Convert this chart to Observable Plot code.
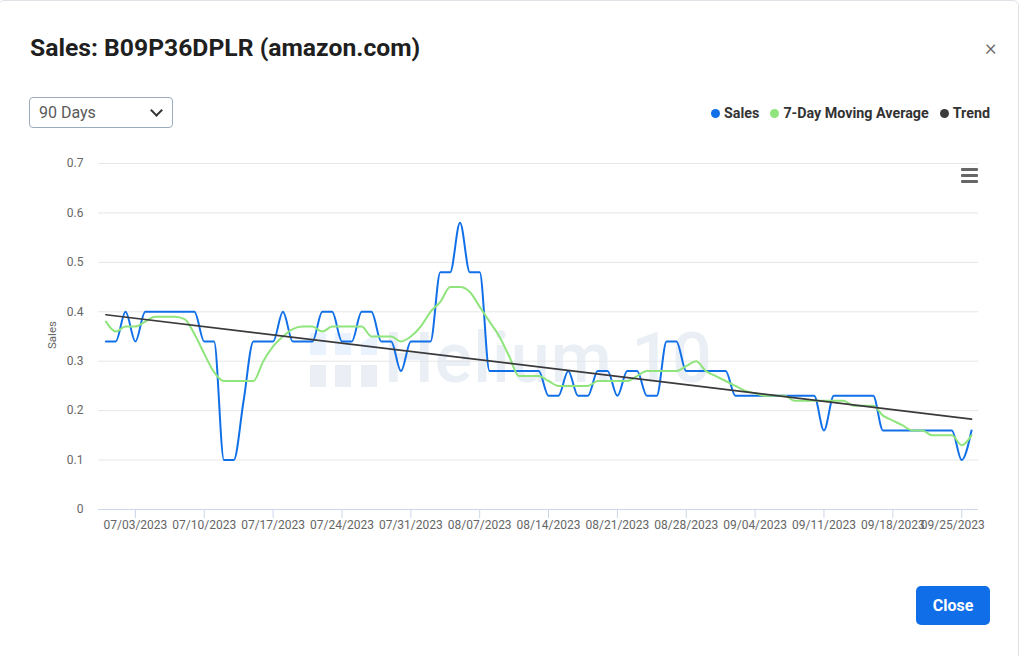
<!DOCTYPE html>
<html>
<head>
<meta charset="utf-8">
<script src="https://cdn.jsdelivr.net/npm/d3@7"></script>
<script src="https://cdn.jsdelivr.net/npm/@observablehq/plot@0.6"></script>
<style>
  html, body { margin: 0; padding: 0; background: #fff; width: 1024px; height: 656px; overflow: hidden; font-family: Roboto, "Noto Sans", sans-serif; }
  .modal { position: absolute; left: -2px; top: 0px; width: 1021px; height: 680px; border: 1px solid #dfe3e8; border-radius: 6px; box-sizing: border-box; }
  .title { position: absolute; left: 30px; top: 33px; font-size: 24.7px; font-weight: 700; color: #1f1f1f; white-space: nowrap; }
  .x { position: absolute; left: 985px; top: 35px; font-size: 22px; color: #666; font-weight: 300; }
  .select { position: absolute; left: 29px; top: 97px; width: 144px; height: 31px; border: 1px solid #9aabbd; border-radius: 4px; box-sizing: border-box; }
  .select span { position: absolute; left: 9px; top: 5px; font-size: 16px; color: #5a5a5a; }
  .chev { position: absolute; left: 122px; top: 8px; width: 7px; height: 7px; border-right: 2px solid #333; border-bottom: 2px solid #333; transform: rotate(45deg); }
  .legend { position: absolute; right: 34px; top: 105px; display: flex; gap: 11px; font-size: 14.3px; font-weight: 700; color: #333; white-space: nowrap; }
  .legend .item { display: flex; align-items: center; gap: 4px; }
  .legend .dot { width: 9px; height: 9px; border-radius: 50%; display: inline-block; }
  .menu { position: absolute; left: 961px; top: 168px; width: 17px; }
  .menu div { height: 3px; background: #666; margin-bottom: 3px; border-radius: 1px; }
  .ylab { position: absolute; left: 52px; top: 335px; transform: translate(-50%, -50%) rotate(-90deg); font-size: 11.5px; color: #666; }
  .wm { position: absolute; left: 384px; top: 317px; font-size: 70px; font-weight: 500; color: #eaeff6; letter-spacing: 1px; }
  .wb { position: absolute; width: 16px; }
  #chart { position: absolute; left: 0; top: 140px; }
  .close { position: absolute; left: 916px; top: 586px; width: 74px; height: 39px; background: #0f6ee8; border-radius: 5px; color: #fff; font-size: 16px; font-weight: 700; text-align: center; line-height: 39px; }
</style>
</head>
<body>
<div class="modal"></div>
<div class="title">Sales: B09P36DPLR (amazon.com)</div>
<div class="x">×</div>
<div class="select"><span>90 Days</span><div class="chev"></div></div>
<div class="legend">
  <div class="item"><span class="dot" style="background:#1170e8"></span>Sales</div>
  <div class="item"><span class="dot" style="background:#8fe57c"></span>7-Day Moving Average</div>
  <div class="item"><span class="dot" style="background:#3a3a3d"></span>Trend</div>
</div>
<div class="wb" style="left:310px;top:333px;height:22px;background:#e9f2fd"></div>
<div class="wb" style="left:335px;top:333px;height:22px;background:#e9f2fd"></div>
<div class="wb" style="left:361px;top:333px;height:22px;background:#e9f2fd;clip-path:polygon(0 45%,100% 0,100% 100%,0 100%)"></div>
<div class="wb" style="left:310px;top:365px;height:22px;background:#ebeff5"></div>
<div class="wb" style="left:335px;top:365px;height:22px;background:#ebeff5"></div>
<div class="wb" style="left:361px;top:365px;height:22px;background:#ebeff5"></div>
<div class="wm">Helium 10</div>
<div id="chart"></div>
<div class="ylab">Sales</div>
<div class="menu"><div></div><div></div><div></div></div>
<div class="close">Close</div>
<script>
// Daily values, starting 06/30/2023
const startDay = "2023-06-30";
const sales = [
  0.34,0.34,0.40,0.34,0.40,0.40,0.40,0.40,0.40,0.40,
  0.34,0.34,0.10,0.10,0.22,0.34,0.34,0.34,0.40,0.34,
  0.34,0.34,0.40,0.40,0.34,0.34,0.40,0.40,0.34,0.34,
  0.28,0.34,0.34,0.34,0.48,0.48,0.58,0.48,0.48,0.28,
  0.28,0.28,0.28,0.28,0.28,0.23,0.23,0.28,0.23,0.23,
  0.28,0.28,0.23,0.28,0.28,0.23,0.23,0.34,0.34,0.28,
  0.28,0.28,0.28,0.28,0.23,0.23,0.23,0.23,0.23,0.23,
  0.23,0.23,0.23,0.16,0.23,0.23,0.23,0.23,0.23,0.16,
  0.16,0.16,0.16,0.16,0.16,0.16,0.16,0.10,0.16
];
const movingAvg = [
  0.38,0.36,0.37,0.37,0.38,0.39,0.39,0.39,0.385,0.355,
  0.315,0.278,0.26,0.26,0.26,0.26,0.30,0.33,0.35,0.365,
  0.37,0.37,0.36,0.37,0.37,0.37,0.37,0.35,0.35,0.35,
  0.34,0.35,0.37,0.40,0.42,0.45,0.45,0.44,0.41,0.38,
  0.35,0.31,0.27,0.27,0.27,0.26,0.25,0.25,0.25,0.25,
  0.26,0.26,0.26,0.26,0.27,0.28,0.28,0.28,0.28,0.29,
  0.30,0.28,0.27,0.26,0.25,0.24,0.235,0.23,0.23,0.23,
  0.22,0.22,0.22,0.22,0.22,0.22,0.21,0.21,0.21,0.19,
  0.18,0.17,0.16,0.16,0.15,0.15,0.15,0.13,0.15
];
const trendDays = ["2023-06-30", "2023-09-26"];
const trendValues = [0.394, 0.183];
const xTickLabels = ["07/03/2023","07/10/2023","07/17/2023","07/24/2023","07/31/2023","08/07/2023","08/14/2023","08/21/2023","08/28/2023","09/04/2023","09/11/2023","09/18/2023","09/25/2023"];
const yTicks = [0, 0.1, 0.2, 0.3, 0.4, 0.5, 0.6, 0.7];

const parseIso = d3.utcParse("%Y-%m-%d");
const parseUs = d3.utcParse("%m/%d/%Y");
const fmtUs = d3.utcFormat("%m/%d/%Y");
const t0 = parseIso(startDay);
const table = sales.map((v, i) => ({date: d3.utcDay.offset(t0, i), sales: v, ma: movingAvg[i]}));
const trend = trendDays.map((d, i) => ({date: parseIso(d), value: trendValues[i]}));
const tickDates = xTickLabels.map(parseUs);
const lastTick = tickDates[tickDates.length - 1];

const xDomain = [new Date(Date.UTC(2023, 5, 29, 6)), new Date(Date.UTC(2023, 8, 26, 17))];

const chart = Plot.plot({
  width: 1024,
  height: 410,
  marginTop: 23,
  marginBottom: 41,
  marginLeft: 98,
  marginRight: 46,
  style: {fontFamily: "Roboto, sans-serif", fontSize: "12px", color: "#666", background: "transparent", overflow: "visible"},
  x: {type: "utc", domain: xDomain},
  y: {domain: [0, 0.7]},
  marks: [
    Plot.gridY(yTicks, {stroke: "#e6e6e6", strokeOpacity: 1}),
    Plot.axisY(yTicks, {tickSize: 0, tickPadding: 15, fill: "#666", tickFormat: d => d === 0 ? "0" : d.toFixed(1), label: null}),
    Plot.ruleY([0], {stroke: "#ccd6eb"}),
    Plot.axisX(tickDates, {tickSize: 9, tickPadding: 2, stroke: "#ccd6eb", strokeOpacity: 1, fill: "#666", tickFormat: d => +d === +lastTick ? "" : fmtUs(d), label: null}),
    Plot.axisX([lastTick], {tickSize: 0, tickPadding: 11, dx: -9, fill: "#666", tickFormat: fmtUs, label: null}),
    Plot.line(table, {x: "date", y: "sales", stroke: "#1170e8", strokeWidth: 2, curve: "monotone-x"}),
    Plot.line(table, {x: "date", y: "ma", stroke: "#8fe57c", strokeWidth: 2, curve: "monotone-x"}),
    Plot.line(trend, {x: "date", y: "value", stroke: "#3a3a3d", strokeWidth: 1.7})
  ]
});
document.getElementById("chart").appendChild(chart);
</script>
</body>
</html>
